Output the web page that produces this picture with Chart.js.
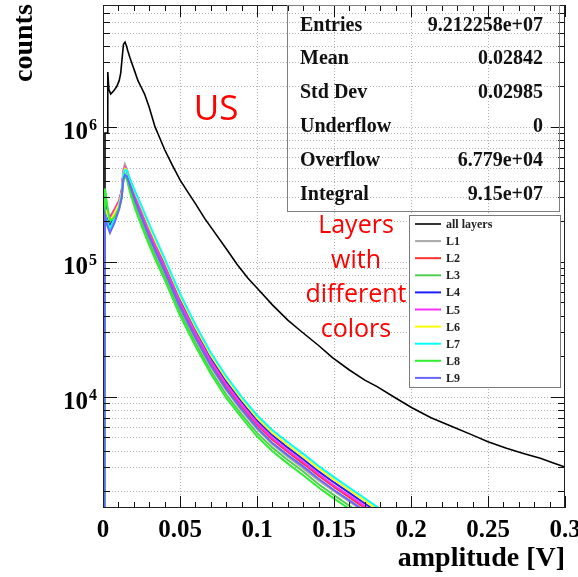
<!DOCTYPE html>
<html>
<head>
<meta charset="utf-8">
<title>US amplitude spectrum</title>
<script src="https://cdn.jsdelivr.net/npm/chart.js@4.4.0/dist/chart.umd.min.js"></script>
<style>
  html, body { margin: 0; padding: 0; background: #ffffff; }
  #c { display: block; }
</style>
</head>
<body>
<canvas id="c" width="578" height="577"></canvas>
<script>
// ---- amplitude spectrum data (amplitude in V, counts per bin) ----
const allAmp = [0.0012, 0.0013, 0.0029, 0.0031, 0.0038, 0.0050, 0.0070, 0.0090, 0.0105, 0.0115,
  0.0125, 0.0133, 0.0143, 0.0152, 0.0160, 0.0175, 0.0188, 0.0205, 0.0227, 0.0250,
  0.0270, 0.0300, 0.0338, 0.0370, 0.0400, 0.0450, 0.0500, 0.0550, 0.0600, 0.0660,
  0.0727, 0.0805, 0.0870, 0.0940, 0.1000, 0.1100, 0.1200, 0.1280, 0.1400, 0.1490,
  0.1600, 0.1700, 0.1780, 0.1900, 0.2006, 0.2130, 0.2270, 0.2400, 0.2500, 0.2620,
  0.2730, 0.2840, 0.2920, 0.2995];
const allCounts = [1200, 9.0e5, 9.0e5, 2.55e6, 1.9e6, 1.75e6, 1.85e6, 2.0e6, 2.2e6, 2.5e6,
  3.3e6, 4.1e6, 4.25e6, 4.0e6, 3.7e6, 3.25e6, 2.95e6, 2.6e6, 2.2e6, 1.95e6,
  1.75e6, 1.4e6, 1.0e6, 8.2e5, 6.8e5, 5.2e5, 4.05e5, 3.3e5, 2.7e5, 2.1e5,
  1.64e5, 1.23e5, 9.6e4, 7.6e4, 6.4e4, 4.8e4, 3.7e4, 3.1e4, 2.4e4, 1.95e4,
  1.58e4, 1.33e4, 1.19e4, 9.8e3, 8.3e3, 7.0e3, 6.0e3, 5.2e3, 4.65e3, 4.15e3,
  3.8e3, 3.5e3, 3.25e3, 3.03e3];

// single-layer spectra share one amplitude grid
const layerAmp = [0.0010, 0.0013, 0.0025, 0.0045, 0.0075, 0.0105, 0.0122, 0.0132, 0.0142, 0.0155,
  0.0175, 0.0210, 0.0250, 0.0300, 0.0350, 0.0400, 0.0500, 0.0600, 0.0700, 0.0800,
  0.0900, 0.1000, 0.1100, 0.1200, 0.1300, 0.1400, 0.1500, 0.1600, 0.1700, 0.1800];
const countsL1 = [1200, 2.6e5, 2.3e5, 2.0e5, 2.25e5, 2.7e5, 3.4e5, 4.8e5, 5.3e5, 4.9e5,
  3.9e5, 2.85e5, 2.15e5, 1.52e5, 1.12e5, 8.4e4, 4.55e4, 2.7e4, 1.67e4, 1.12e4,
  7.9e3, 5.8e3, 4.45e3, 3.6e3, 2.95e3, 2.4e3, 2.0e3, 1.67e3, 1.4e3, 1.15e3];
const countsL2 = [1200, 2.4e5, 2.35e5, 2.15e5, 2.45e5, 2.85e5, 3.4e5, 4.6e5, 5.0e5, 4.75e5,
  3.95e5, 2.95e5, 2.25e5, 1.62e5, 1.2e5, 9.0e4, 4.9e4, 2.9e4, 1.8e4, 1.2e4,
  8.5e3, 6.2e3, 4.8e3, 3.9e3, 3.2e3, 2.6e3, 2.15e3, 1.8e3, 1.5e3, 1.25e3];
const countsL3 = [1200, 3.5e5, 2.6e5, 2.0e5, 2.2e5, 2.55e5, 3.1e5, 4.2e5, 4.5e5, 4.3e5,
  3.5e5, 2.6e5, 1.96e5, 1.41e5, 1.04e5, 7.8e4, 4.25e4, 2.52e4, 1.56e4, 1.04e4,
  7.4e3, 5.4e3, 4.2e3, 3.4e3, 2.8e3, 2.25e3, 1.87e3, 1.56e3, 1.3e3, 1.1e3];
const countsL4 = [1200, 2.8e5, 2.2e5, 1.9e5, 2.2e5, 2.65e5, 3.3e5, 4.5e5, 4.9e5, 4.75e5,
  4.05e5, 3.15e5, 2.42e5, 1.75e5, 1.3e5, 9.7e4, 5.3e4, 3.13e4, 1.94e4, 1.3e4,
  9.2e3, 6.7e3, 5.2e3, 4.2e3, 3.45e3, 2.8e3, 2.32e3, 1.94e3, 1.62e3, 1.35e3];
const countsL5 = [1200, 2.4e5, 2.3e5, 2.1e5, 2.4e5, 2.8e5, 3.4e5, 4.6e5, 5.0e5, 4.8e5,
  4.0e5, 3.05e5, 2.32e5, 1.67e5, 1.24e5, 9.3e4, 5.05e4, 3.0e4, 1.85e4, 1.24e4,
  8.75e3, 6.4e3, 4.95e3, 4.0e3, 3.3e3, 2.68e3, 2.2e3, 1.85e3, 1.55e3, 1.28e3];
const countsL6 = [1200, 2.5e5, 2.3e5, 2.0e5, 2.3e5, 2.7e5, 3.3e5, 4.5e5, 4.9e5, 4.8e5,
  4.1e5, 3.25e5, 2.52e5, 1.82e5, 1.35e5, 1.02e5, 5.55e4, 3.28e4, 2.03e4, 1.36e4,
  9.6e3, 7.0e3, 5.4e3, 4.4e3, 3.6e3, 2.95e3, 2.43e3, 2.03e3, 1.7e3, 1.41e3];
const countsL7 = [1200, 2.3e5, 2.0e5, 1.75e5, 2.1e5, 2.55e5, 3.2e5, 4.4e5, 4.8e5, 4.75e5,
  4.1e5, 3.3e5, 2.6e5, 1.9e5, 1.42e5, 1.06e5, 5.8e4, 3.42e4, 2.12e4, 1.42e4,
  1.0e4, 7.3e3, 5.65e3, 4.6e3, 3.78e3, 3.07e3, 2.54e3, 2.12e3, 1.77e3, 1.47e3];
const countsL8 = [1200, 3.4e5, 2.7e5, 2.0e5, 2.15e5, 2.5e5, 3.0e5, 4.0e5, 4.3e5, 4.1e5,
  3.3e5, 2.45e5, 1.85e5, 1.33e5, 9.8e4, 7.4e4, 4.0e4, 2.38e4, 1.48e4, 9.8e3,
  7.0e3, 5.1e3, 3.95e3, 3.2e3, 2.62e3, 2.13e3, 1.76e3, 1.48e3, 1.23e3, 1.02e3];
const countsL9 = [1200, 2.2e5, 1.9e5, 1.64e5, 1.95e5, 2.45e5, 3.0e5, 4.1e5, 4.4e5, 4.3e5,
  3.7e5, 2.8e5, 2.14e5, 1.54e5, 1.14e5, 8.55e4, 4.65e4, 2.75e4, 1.71e4, 1.14e4,
  8.1e3, 5.9e3, 4.55e3, 3.7e3, 3.05e3, 2.47e3, 2.04e3, 1.71e3, 1.43e3, 1.19e3];

const layerNames = ['L1', 'L2', 'L3', 'L4', 'L5', 'L6', 'L7', 'L8', 'L9'];
const layerCounts = [countsL1, countsL2, countsL3, countsL4, countsL5, countsL6, countsL7, countsL8, countsL9];
const layerColors = ['#a8a8a8', '#ff3030', '#4fcf4f', '#2020ff', '#ff30ff', '#ffff00', '#00ffff', '#30ef30', '#6666ff'];

// statistics of the summed histogram
const statNames = ['Entries', 'Mean', 'Std Dev', 'Underflow', 'Overflow', 'Integral'];
const statValues = ['9.212258e+07', '0.02842', '0.02985', '0', '6.779e+04', '9.15e+07'];

// axis labelling
const xTickValues = [0, 0.05, 0.1, 0.15, 0.2, 0.25, 0.3];
const xTickLabels = ['0', '0.05', '0.1', '0.15', '0.2', '0.25', '0.3'];
const yDecades = [4, 5, 6];
const xTitle = 'amplitude [V]';
const yTitle = 'counts';
const noteDetector = 'US';
const noteLayers = ['Layers', 'with', 'different', 'colors'];

const SERIF = '"Liberation Serif", "Times New Roman", serif';
const SANS = '"Open Sans", "Noto Sans", sans-serif';

function points(xs, ys) {
  return xs.map((v, i) => ({ x: v, y: ys[i] }));
}

const datasets = [{
  label: 'all layers',
  data: points(allAmp, allCounts),
  borderColor: '#000000',
  borderWidth: 1.6,
  order: 20
}];
layerNames.forEach((name, i) => {
  datasets.push({
    label: name,
    data: points(layerAmp, layerCounts[i]),
    borderColor: layerColors[i],
    borderWidth: 2,
    order: 10 - i
  });
});

// ROOT-style frame: dotted grid, inward ticks, stats box, legend, annotations
const rootStyle = {
  id: 'rootStyle',
  beforeDatasetsDraw(chart) {
    const { ctx, chartArea: a, scales: { x, y } } = chart;
    ctx.save();
    ctx.strokeStyle = '#b0b0b0';
    ctx.lineWidth = 1;
    ctx.setLineDash([1, 2]);
    ctx.beginPath();
    xTickValues.forEach(v => {
      if (v <= x.min || v >= x.max) return;
      const px = Math.round(x.getPixelForValue(v)) + 0.5;
      ctx.moveTo(px, a.top); ctx.lineTo(px, a.bottom);
    });
    for (let e = 3; e <= 6; e++) {
      for (let m = 1; m <= 9; m++) {
        const v = m * Math.pow(10, e);
        if (v <= y.min || v >= y.max) continue;
        const py = Math.round(y.getPixelForValue(v)) + 0.5;
        ctx.moveTo(a.left, py); ctx.lineTo(a.right, py);
      }
    }
    ctx.stroke();
    ctx.restore();
  },
  afterDatasetsDraw(chart) {
    const { ctx, chartArea: a, scales: { x, y } } = chart;
    ctx.save();

    // ticks on all four sides, pointing inwards
    ctx.strokeStyle = '#111';
    ctx.lineWidth = 1;
    ctx.beginPath();
    for (let i = 0; i <= 30; i++) {
      const v = i / 100;
      const px = Math.round(x.getPixelForValue(v)) + 0.5;
      const len = (i % 5 === 0) ? 12 : 6;
      ctx.moveTo(px, a.bottom); ctx.lineTo(px, a.bottom - len);
      ctx.moveTo(px, a.top); ctx.lineTo(px, a.top + len);
    }
    for (let e = 3; e <= 6; e++) {
      for (let m = 1; m <= 9; m++) {
        const v = m * Math.pow(10, e);
        if (v <= y.min || v >= y.max) continue;
        const py = Math.round(y.getPixelForValue(v)) + 0.5;
        const len = (m === 1) ? 14 : 7;
        ctx.moveTo(a.left, py); ctx.lineTo(a.left + len, py);
        ctx.moveTo(a.right, py); ctx.lineTo(a.right - len, py);
      }
    }
    ctx.stroke();

    // frame
    ctx.strokeStyle = '#222';
    ctx.strokeRect(a.left + 0.5, a.top + 0.5, a.right - a.left - 1, a.bottom - a.top - 1);

    // tick labels
    ctx.fillStyle = '#000';
    ctx.font = 'bold 25px ' + SERIF;
    ctx.textAlign = 'center';
    ctx.textBaseline = 'alphabetic';
    xTickValues.forEach((v, i) => {
      ctx.fillText(xTickLabels[i], x.getPixelForValue(v), a.bottom + 29);
    });
    yDecades.forEach(e => {
      const py = y.getPixelForValue(Math.pow(10, e));
      ctx.font = 'bold 16px ' + SERIF;
      ctx.textAlign = 'right';
      ctx.fillText(String(e), 97, py + 3);
      const w = ctx.measureText(String(e)).width;
      ctx.font = 'bold 25px ' + SERIF;
      ctx.fillText('10', 97 - w - 1, py + 12);
    });

    // axis titles
    ctx.font = 'bold 28px ' + SERIF;
    ctx.textAlign = 'right';
    ctx.fillText(xTitle, a.right, 566);
    ctx.save();
    ctx.translate(32, 82);
    ctx.rotate(-Math.PI / 2);
    ctx.textAlign = 'left';
    ctx.fillText(yTitle, 0, 0);
    ctx.restore();

    // statistics box (transparent)
    ctx.strokeStyle = '#808080';
    ctx.lineWidth = 1;
    ctx.strokeRect(287.5, a.top + 0.5, 272, 206);
    ctx.fillStyle = '#111';
    ctx.font = 'bold 20px ' + SERIF;
    statNames.forEach((name, i) => {
      const by = 30.5 + i * 33.8;
      ctx.textAlign = 'left';
      ctx.fillText(name, 300, by);
      ctx.textAlign = 'right';
      ctx.fillText(statValues[i], 543, by);
    });

    // legend
    const lx = 409.5, ly = 215.5, lw = 151, lh = 172;
    ctx.fillStyle = '#ffffff';
    ctx.fillRect(lx, ly, lw, lh);
    ctx.strokeStyle = '#7a7a7a';
    ctx.strokeRect(lx, ly, lw, lh);
    ctx.font = 'bold 12px ' + SERIF;
    ctx.textAlign = 'left';
    ctx.textBaseline = 'middle';
    chart.data.datasets.forEach((ds, i) => {
      const ry = 224 + i * 17.1;
      ctx.strokeStyle = i === 0 ? '#333' : ds.borderColor;
      ctx.lineWidth = 2;
      ctx.beginPath();
      ctx.moveTo(415, ry); ctx.lineTo(441, ry);
      ctx.stroke();
      ctx.fillStyle = '#222';
      ctx.fillText(ds.label, 446, ry + 1);
    });

    // red annotations
    ctx.fillStyle = '#ff0000';
    ctx.textAlign = 'center';
    ctx.textBaseline = 'alphabetic';
    ctx.font = '35px ' + SANS;
    ctx.fillText(noteDetector, 216, 120);
    ctx.font = '25px ' + SANS;
    noteLayers.forEach((t, i) => {
      ctx.fillText(t, 356, 233 + i * 34.6);
    });

    ctx.restore();
  }
};

new Chart(document.getElementById('c'), {
  type: 'line',
  data: { datasets },
  options: {
    responsive: false,
    animation: false,
    devicePixelRatio: 1,
    parsing: true,
    layout: { padding: { top: 5, right: 13, left: 0, bottom: 0 } },
    elements: { point: { radius: 0 }, line: { tension: 0 } },
    scales: {
      x: {
        type: 'linear', min: 0, max: 0.3,
        ticks: { display: false }, grid: { display: false }, border: { display: false },
        afterFit(s) { s.height = 69; }
      },
      y: {
        type: 'logarithmic', min: 1500, max: 8e6,
        ticks: { display: false }, grid: { display: false }, border: { display: false },
        afterFit(s) { s.width = 103; }
      }
    },
    plugins: { legend: { display: false }, tooltip: { enabled: false } }
  },
  plugins: [rootStyle]
});
</script>
</body>
</html>
